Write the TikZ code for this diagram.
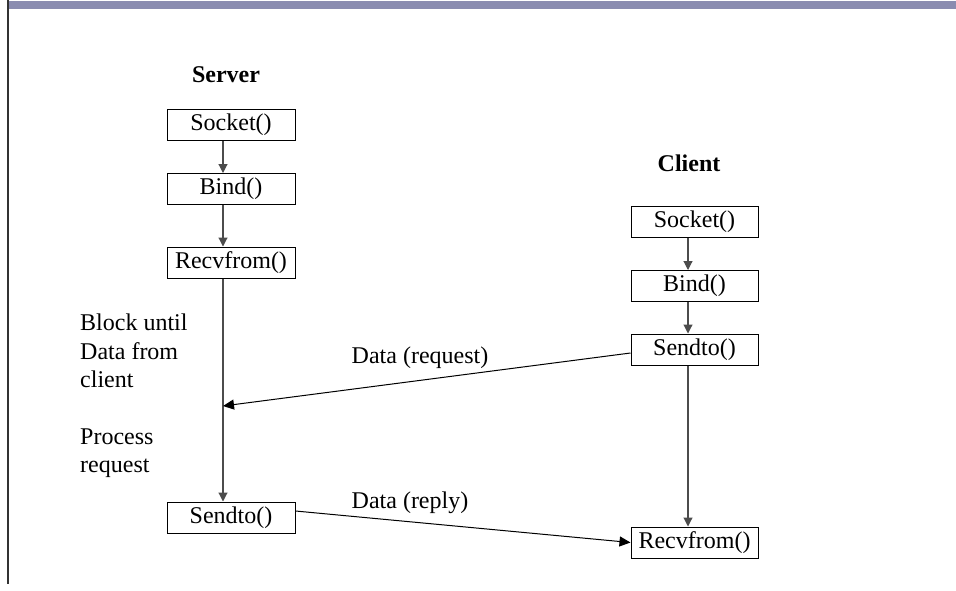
\documentclass[tikz,border=0pt]{standalone}
\usepackage{fontspec}
\setmainfont{Liberation Serif}
\usetikzlibrary{arrows.meta}
\definecolor{barblue}{RGB}{138,140,176}
\tikzset{
  fn/.style={draw=black, line width=1pt, inner sep=0pt, minimum height=31pt, font=\fontsize{24}{28.5}\selectfont},
  srv/.style={fn, minimum width=128pt},
  cli/.style={fn, minimum width=127pt},
  head/.style={font=\fontsize{24}{28.5}\selectfont\bfseries},
  lbl/.style={font=\fontsize{24}{28.5}\selectfont, inner sep=0pt},
  varrow/.style={draw=black!70, line width=1.1pt, -{Triangle[width=9pt,length=9pt]}},
  darrow/.style={draw=black, line width=1pt, -{Triangle[width=10pt,length=11pt]}}
}
\begin{document}
\begin{tikzpicture}[x=1pt,y=-1pt]
\useasboundingbox (0,0) rectangle (956,590);
% frame decorations
\fill[barblue] (8,1) rectangle (956,9);
\draw[black!80, line width=1.3pt] (8,0) -- (8,584);

% headings
\node[head] (server) at (226,75) {Server};
\node[head] (client) at (689,163) {Client};

% server column
\node[srv] (ssock) at (231,125) {Socket()};
\node[srv] (sbind) at (231,189) {Bind()};
\node[srv] (srecv) at (231,262.5) {Recvfrom()};
\node[srv] (ssend) at (231,517.5) {Sendto()};

% client column
\node[cli] (csock) at (694.5,221.5) {Socket()};
\node[cli] (cbind) at (694.5,286) {Bind()};
\node[cli] (csend) at (694.5,349.5) {Sendto()};
\node[cli] (crecv) at (694.5,542.5) {Recvfrom()};

% side notes
\node[lbl, align=left, anchor=west] (block) at (80,351) {Block until\\Data from\\client};
\node[lbl, align=left, anchor=west] (proc) at (80,453) {Process\\request};

% message labels
\node[lbl] (reqlbl) at (420,358) {Data (request)};
\node[lbl] (replbl) at (410,503) {Data (reply)};

% point on server timeline where the request arrives
\coordinate (arrive) at (223,406);

% server arrows
\draw[varrow] ([xshift=-8pt]ssock.south) -- ([xshift=-8pt]sbind.north);
\draw[varrow] ([xshift=-8pt]sbind.south) -- ([xshift=-8pt]srecv.north);
\draw[varrow] ([xshift=-8pt]srecv.south) -- ([xshift=-8pt]ssend.north);

% client arrows
\draw[varrow] ([xshift=-6.5pt]csock.south) -- ([xshift=-6.5pt]cbind.north);
\draw[varrow] ([xshift=-6.5pt]cbind.south) -- ([xshift=-6.5pt]csend.north);
\draw[varrow] ([xshift=-6.5pt]csend.south) -- ([xshift=-6.5pt]crecv.north);

% messages
\draw[darrow] ([yshift=-3.5pt]csend.west) -- (arrive);
\draw[darrow] ([yshift=6.5pt]ssend.east) -- (crecv.west);
\end{tikzpicture}
\end{document}
